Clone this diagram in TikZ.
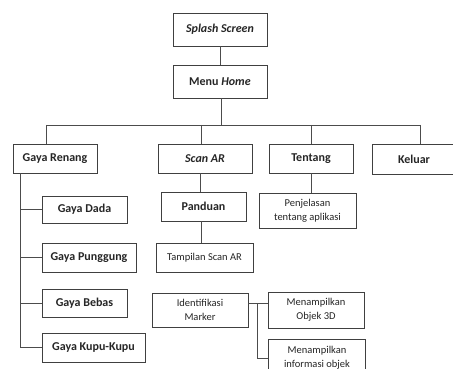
\documentclass[tikz,border=0pt]{standalone}
\usepackage{fontspec}
\setmainfont{Carlito}
\begin{document}
\begin{tikzpicture}[x=1pt,y=-1pt,
  box/.style={draw=black!75,line width=0.8pt,rectangle,inner sep=1pt,align=center,text=black!85,font=\fontsize{12}{14}\selectfont\bfseries},
  sbox/.style={box,font=\fontsize{10.5}{14}\selectfont},
  ln/.style={draw=black!70,line width=0.8pt}]
\clip (0,0) rectangle (453,369);
\fill[white] (0,0) rectangle (453,369);
% top
\node[box,minimum width=94pt,minimum height=33pt] (splash) at (220,29.5) {\itshape Splash Screen};
\node[box,minimum width=94pt,minimum height=33pt] (menu) at (220,81.5) {Menu \textit{Home}};
% level 2
\node[box,minimum width=84pt,minimum height=29pt] (gr) at (55,158.5) {Gaya Renang};
\node[box,minimum width=94pt,minimum height=29pt] (scan) at (205,158.5) {\itshape Scan AR};
\node[box,minimum width=84pt,minimum height=29pt] (tentang) at (311,158.5) {Tentang};
\node[box,minimum width=84pt,minimum height=30pt] (keluar) at (414,159) {Keluar};
% gaya renang children
\node[box,minimum width=85pt,minimum height=27pt] (dada) at (84.5,209.5) {Gaya Dada};
\node[box,minimum width=94pt,minimum height=29pt] (punggung) at (89,257.5) {Gaya Punggung};
\node[box,minimum width=85pt,minimum height=28pt] (bebas) at (84.5,303) {Gaya Bebas};
\node[box,minimum width=103pt,minimum height=29pt] (kupu) at (93.5,347.5) {Gaya Kupu-Kupu};
% scan AR
\node[box,minimum width=85pt,minimum height=29pt] (panduan) at (203.5,206.5) {Panduan};
\node[sbox,minimum width=97pt,minimum height=29pt] (tampilan) at (204.5,257.5) {Tampilan Scan AR};
\node[sbox,minimum width=97pt,minimum height=35pt] (penjelasan) at (307.5,210.5) {Penjelasan\\tentang aplikasi};
\node[sbox,minimum width=96pt,minimum height=34pt] (ident) at (200,310) {Identifikasi\\Marker};
\node[sbox,minimum width=96pt,minimum height=36pt] (objek) at (316,310) {Menampilkan\\Objek 3D};
\node[sbox,minimum width=97pt,minimum height=38pt] (info) at (317,358) {Menampilkan\\informasi objek};
% connectors
\draw[ln] (splash) -- (menu);
\coordinate (bus) at (221,125);
\coordinate (b1) at (46,125);
\coordinate (b2) at (201,125);
\coordinate (b3) at (311,125);
\coordinate (b4) at (420,125);
\draw[ln] (menu.south -| bus) -- (bus);
\draw[ln] (b1) -- (b4);
\draw[ln] (b1) -- (b1 |- gr.north);
\draw[ln] (b2) -- (b2 |- scan.north);
\draw[ln] (b3) -- (b3 |- tentang.north);
\draw[ln] (b4) -- (b4 |- keluar.north);
% spine
\coordinate (sp) at (20,173);
\draw[ln] (sp |- gr.south) |- (kupu.west);
\draw[ln] (dada.west) -- (dada.west -| sp);
\draw[ln] (punggung.west) -- (punggung.west -| sp);
\draw[ln] (bebas.west) -- (bebas.west -| sp);
% scan chain
\coordinate (sc) at (200,0);
\draw[ln] (scan.south -| sc) -- (panduan.north -| sc);
\coordinate (pc) at (201,0);
\draw[ln] (panduan.south -| pc) -- (tampilan.north -| pc);
\draw[ln] (tentang.south -| b3) -- (penjelasan.north -| b3);
% ident
\coordinate (j) at (257,303);
\draw[ln] (j -| ident.east) -- (j -| objek.west);
\draw[ln] (j) |- (info.west);
\end{tikzpicture}
\end{document}
